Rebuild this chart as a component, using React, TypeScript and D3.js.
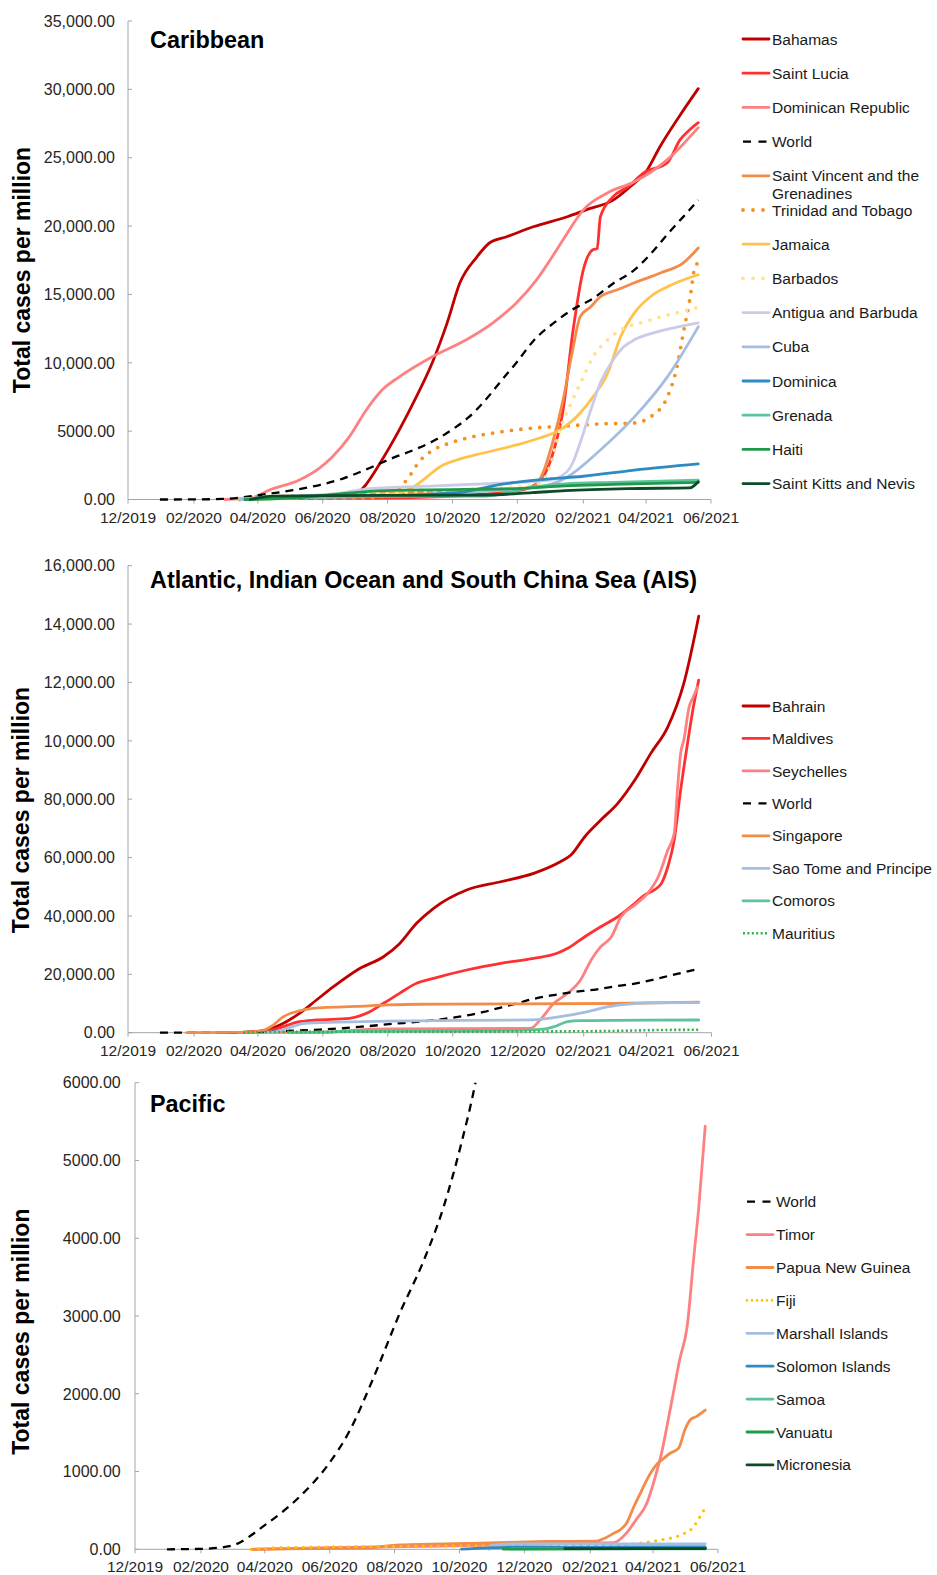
import React from 'react';
import * as d3 from 'd3';

type Pt = [string, number];

// ---- axis ticks ----
const xTickLabels = ['12/2019', '02/2020', '04/2020', '06/2020', '08/2020', '10/2020', '12/2020', '02/2021', '04/2021', '06/2021'];

const caribYTicks = [0, 5000, 10000, 15000, 20000, 25000, 30000, 35000];
const caribYLabels = ['0.00', '5000.00', '10,000.00', '15,000.00', '20,000.00', '25,000.00', '30,000.00', '35,000.00'];
const aisYTicks = [0, 20000, 40000, 60000, 80000, 100000, 120000, 140000, 160000];
const aisYLabels = ['0.00', '20,000.00', '40,000.00', '60,000.00', '80,000.00', '10,000.00', '12,000.00', '14,000.00', '16,000.00'];
const pacYTicks = [0, 1000, 2000, 3000, 4000, 5000, 6000];
const pacYLabels = ['0.00', '1000.00', '2000.00', '3000.00', '4000.00', '5000.00', '6000.00'];

// ---- series (total cases per million) ----
const world: Pt[] = [
  ['2019-12-31', 0], ['2020-01-31', 5], ['2020-02-28', 40], ['2020-04-02', 320], ['2020-05-04', 680],
  ['2020-05-29', 1060], ['2020-06-20', 1530], ['2020-07-12', 2200], ['2020-08-06', 3040], ['2020-08-28', 3700],
  ['2020-09-16', 4400], ['2020-10-02', 5180], ['2020-10-16', 6000], ['2020-10-30', 7100], ['2020-11-16', 8700],
  ['2020-12-01', 10100], ['2020-12-16', 11600], ['2021-01-04', 12900], ['2021-01-22', 13900], ['2021-02-10', 14700],
  ['2021-03-01', 15800], ['2021-03-21', 16800], ['2021-04-08', 18200], ['2021-04-21', 19400], ['2021-05-05', 20600],
  ['2021-05-20', 21900],
];

const bahamas: Pt[] = [
  ['2020-03-15', 0], ['2020-04-15', 100], ['2020-06-01', 180], ['2020-07-01', 300], ['2020-07-09', 840],
  ['2020-07-25', 2670], ['2020-08-12', 5090], ['2020-08-28', 7500], ['2020-09-12', 10000], ['2020-09-26', 12920],
  ['2020-10-08', 15850], ['2020-10-24', 17750], ['2020-11-05', 18780], ['2020-11-21', 19220], ['2020-12-16', 19950],
  ['2021-01-17', 20680], ['2021-02-04', 21200], ['2021-03-01', 21900], ['2021-03-17', 22880], ['2021-04-02', 24100],
  ['2021-04-14', 25800], ['2021-05-02', 28000], ['2021-05-20', 30050],
];
const saintLucia: Pt[] = [
  ['2020-03-15', 0], ['2020-04-15', 80], ['2020-07-01', 100], ['2020-09-01', 150], ['2020-10-15', 300],
  ['2020-11-15', 500], ['2020-12-10', 800], ['2020-12-25', 1650], ['2021-01-05', 3800], ['2021-01-13', 6550],
  ['2021-01-22', 12180], ['2021-02-01', 16800], ['2021-02-10', 18270], ['2021-02-14', 18350], ['2021-02-17', 20680],
  ['2021-03-01', 22150], ['2021-03-15', 22880], ['2021-03-30', 23900], ['2021-04-21', 24640], ['2021-05-03', 26320],
  ['2021-05-12', 27050], ['2021-05-20', 27560],
];
const dominicanRep: Pt[] = [
  ['2020-03-01', 0], ['2020-03-25', 100], ['2020-04-12', 700], ['2020-05-10', 1430], ['2020-05-29', 2300],
  ['2020-06-10', 3110], ['2020-06-26', 4580], ['2020-07-12', 6550], ['2020-07-27', 8020], ['2020-08-12', 8970],
  ['2020-09-12', 10440], ['2020-10-14', 11680], ['2020-11-08', 12920], ['2020-11-30', 14380], ['2020-12-19', 16070],
  ['2021-01-07', 18270], ['2021-01-17', 19500], ['2021-02-01', 21190], ['2021-02-24', 22440], ['2021-03-21', 23240],
  ['2021-04-21', 24860], ['2021-05-20', 27200],
];
const saintVincent: Pt[] = [
  ['2020-03-15', 0], ['2020-04-15', 100], ['2020-06-01', 250], ['2020-08-01', 450], ['2020-10-01', 600],
  ['2020-11-15', 700], ['2020-12-15', 900], ['2020-12-25', 1940], ['2021-01-03', 4140], ['2021-01-13', 7290],
  ['2021-01-22', 10950], ['2021-01-29', 13360], ['2021-02-08', 14100], ['2021-02-17', 14830], ['2021-03-05', 15340],
  ['2021-03-21', 15850], ['2021-04-15', 16580], ['2021-05-06', 17310], ['2021-05-20', 18400],
];
const trinidad: Pt[] = [
  ['2020-03-15', 0], ['2020-04-15', 80], ['2020-07-15', 110], ['2020-08-06', 470], ['2020-08-19', 1430],
  ['2020-09-01', 2890], ['2020-09-13', 3620], ['2020-09-29', 4140], ['2020-10-15', 4500], ['2020-11-15', 4940],
  ['2020-12-16', 5230], ['2021-01-17', 5380], ['2021-02-17', 5530], ['2021-03-21', 5600], ['2021-04-05', 6040],
  ['2021-04-21', 7500], ['2021-04-30', 9700], ['2021-05-06', 12190], ['2021-05-12', 14600], ['2021-05-17', 17020],
  ['2021-05-20', 17300],
];
const jamaica: Pt[] = [
  ['2020-03-15', 0], ['2020-04-15', 60], ['2020-06-01', 200], ['2020-07-15', 300], ['2020-08-10', 450],
  ['2020-08-25', 910], ['2020-09-07', 1650], ['2020-09-19', 2380], ['2020-10-05', 2890], ['2020-10-30', 3400],
  ['2020-11-30', 3990], ['2020-12-22', 4500], ['2021-01-10', 5090], ['2021-01-29', 6330], ['2021-02-10', 7500],
  ['2021-02-24', 9260], ['2021-03-08', 11900], ['2021-03-21', 13650], ['2021-04-05', 14830], ['2021-04-21', 15560],
  ['2021-05-20', 16440],
];
const barbados: Pt[] = [
  ['2020-03-20', 0], ['2020-04-20', 250], ['2020-06-01', 320], ['2020-09-01', 560], ['2020-11-01', 800],
  ['2020-12-15', 1000], ['2020-12-25', 1400], ['2021-01-01', 2500], ['2021-01-10', 5090], ['2021-01-22', 7290],
  ['2021-02-01', 8970], ['2021-02-10', 10440], ['2021-02-24', 11680], ['2021-03-08', 12410], ['2021-03-27', 12920],
  ['2021-04-15', 13360], ['2021-05-03', 13720], ['2021-05-20', 14050],
];
const antigua: Pt[] = [
  ['2020-03-15', 0], ['2020-04-15', 200], ['2020-05-15', 280], ['2020-06-15', 450], ['2020-07-15', 800],
  ['2020-09-15', 1000], ['2020-11-15', 1200], ['2020-12-31', 1400], ['2021-01-10', 1650], ['2021-01-22', 2670],
  ['2021-01-29', 4140], ['2021-02-08', 6550], ['2021-02-17', 8530], ['2021-03-01', 10210], ['2021-03-11', 11170],
  ['2021-03-21', 11680], ['2021-04-08', 12190], ['2021-04-27', 12560], ['2021-05-20', 12920],
];
const cuba: Pt[] = [
  ['2020-03-15', 0], ['2020-05-01', 120], ['2020-08-01', 250], ['2020-10-01', 500], ['2020-12-01', 750],
  ['2021-01-01', 1100], ['2021-01-17', 1650], ['2021-02-17', 3620], ['2021-03-21', 6040], ['2021-04-21', 8970],
  ['2021-05-20', 12630],
];
const dominica: Pt[] = [
  ['2020-03-20', 0], ['2020-04-15', 200], ['2020-06-01', 250], ['2020-08-01', 280], ['2020-09-15', 400],
  ['2020-10-15', 600], ['2020-11-08', 1000], ['2020-12-16', 1400], ['2021-02-01', 1700], ['2021-03-21', 2150],
  ['2021-05-20', 2600],
];
const grenada: Pt[] = [
  ['2020-03-22', 0], ['2020-04-20', 130], ['2020-08-01', 220], ['2020-11-01', 250], ['2020-12-15', 900],
  ['2021-01-15', 1150], ['2021-03-01', 1250], ['2021-05-20', 1420],
];
const haiti: Pt[] = [
  ['2020-03-20', 0], ['2020-05-01', 100], ['2020-06-15', 400], ['2020-07-15', 600], ['2020-09-01', 700],
  ['2020-12-01', 800], ['2021-01-15', 1000], ['2021-03-01', 1100], ['2021-05-20', 1250],
];
const saintKitts: Pt[] = [
  ['2020-03-25', 0], ['2020-04-15', 250], ['2020-06-01', 280], ['2020-11-01', 330], ['2020-12-15', 500],
  ['2021-01-15', 650], ['2021-03-15', 800], ['2021-05-12', 850], ['2021-05-20', 1300],
];

const bahrain: Pt[] = [
  ['2020-03-01', 0], ['2020-03-20', 150], ['2020-04-09', 920], ['2020-04-25', 3220], ['2020-05-10', 6640],
  ['2020-05-26', 11200], ['2020-06-11', 15760], ['2020-07-06', 22060], ['2020-07-28', 26030], ['2020-08-12', 30500],
  ['2020-08-28', 37470], ['2020-09-13', 42600], ['2020-10-14', 48870], ['2020-11-15', 51720], ['2020-12-16', 54600],
  ['2021-01-10', 58570], ['2021-01-20', 60860], ['2021-02-02', 67130], ['2021-02-17', 72850], ['2021-03-05', 78600],
  ['2021-03-21', 86550], ['2021-04-05', 95700], ['2021-04-21', 104800], ['2021-05-06', 119700], ['2021-05-20', 142700],
];
const maldives: Pt[] = [
  ['2020-03-10', 0], ['2020-04-03', 50], ['2020-04-20', 1500], ['2020-05-10', 3770], ['2020-05-26', 4350],
  ['2020-06-26', 4930], ['2020-07-12', 6640], ['2020-07-28', 10070], ['2020-08-12', 13490], ['2020-08-28', 16920],
  ['2020-09-13', 18630], ['2020-10-14', 21480], ['2020-11-15', 23770], ['2020-12-16', 25480], ['2021-01-07', 27200],
  ['2021-01-17', 28900], ['2021-02-02', 32880], ['2021-02-17', 36300], ['2021-03-05', 39730], ['2021-03-21', 44320],
  ['2021-03-30', 47160], ['2021-04-08', 48870], ['2021-04-15', 51170], ['2021-04-21', 56860], ['2021-04-27', 66000],
  ['2021-05-03', 83120], ['2021-05-09', 97960], ['2021-05-15', 111660], ['2021-05-20', 120800],
];
const seychelles: Pt[] = [
  ['2020-03-14', 0], ['2020-04-15', 120], ['2020-06-01', 150], ['2020-07-01', 900], ['2020-08-01', 1300],
  ['2020-12-13', 1500], ['2020-12-22', 4350], ['2021-01-04', 10070], ['2021-01-17', 13490], ['2021-01-29', 18050],
  ['2021-02-08', 24900], ['2021-02-17', 29460], ['2021-02-27', 32880], ['2021-03-08', 39730], ['2021-03-21', 43740],
  ['2021-04-02', 47740], ['2021-04-12', 53430], ['2021-04-21', 62570], ['2021-04-27', 68290], ['2021-04-30', 83120],
  ['2021-05-03', 95700], ['2021-05-06', 100250], ['2021-05-11', 111660], ['2021-05-15', 115080], ['2021-05-19', 118500],
];
const singapore: Pt[] = [
  ['2020-01-25', 0], ['2020-03-15', 100], ['2020-04-05', 700], ['2020-04-15', 2500], ['2020-04-25', 5500],
  ['2020-05-10', 7500], ['2020-06-01', 8600], ['2020-07-01', 9000], ['2020-08-01', 9500], ['2020-09-01', 9750],
  ['2020-12-01', 9850], ['2021-03-01', 10000], ['2021-05-20', 10500],
];
const saoTome: Pt[] = [
  ['2020-04-08', 0], ['2020-04-20', 500], ['2020-05-01', 1800], ['2020-05-15', 3200], ['2020-06-15', 3600],
  ['2020-08-01', 4000], ['2020-12-15', 4400], ['2021-01-10', 5500], ['2021-02-05', 7200], ['2021-02-24', 8900],
  ['2021-03-15', 9800], ['2021-04-05', 10250], ['2021-05-20', 10300],
];
const comoros: Pt[] = [
  ['2020-04-30', 0], ['2020-06-01', 200], ['2020-07-01', 500], ['2020-08-15', 600], ['2020-12-01', 800],
  ['2020-12-25', 1200], ['2021-01-04', 2050], ['2021-01-17', 3770], ['2021-01-29', 4110], ['2021-03-01', 4250],
  ['2021-05-20', 4350],
];
const mauritius: Pt[] = [
  ['2020-03-18', 0], ['2020-04-15', 250], ['2020-12-01', 400], ['2021-03-01', 600], ['2021-04-01', 850],
  ['2021-05-20', 1000],
];

const timor: Pt[] = [
  ['2020-03-21', 0], ['2020-06-01', 20], ['2020-12-01', 60], ['2021-02-07', 80], ['2021-02-23', 85],
  ['2021-03-07', 210], ['2021-03-16', 380], ['2021-03-26', 590], ['2021-04-04', 980], ['2021-04-09', 1240],
  ['2021-04-14', 1580], ['2021-04-20', 2010], ['2021-04-26', 2440], ['2021-05-03', 2865], ['2021-05-09', 3720],
  ['2021-05-14', 4410], ['2021-05-20', 5440],
];
const papuaNG: Pt[] = [
  ['2020-03-20', 0], ['2020-04-15', 5], ['2020-07-01', 15], ['2020-08-06', 55], ['2020-10-21', 80],
  ['2020-12-23', 100], ['2021-02-07', 105], ['2021-02-14', 140], ['2021-02-23', 205], ['2021-03-01', 250],
  ['2021-03-07', 335], ['2021-03-14', 550], ['2021-03-20', 720], ['2021-03-26', 890], ['2021-04-04', 1085],
  ['2021-04-11', 1170], ['2021-04-17', 1235], ['2021-04-25', 1300], ['2021-05-01', 1540], ['2021-05-06', 1665],
  ['2021-05-12', 1710], ['2021-05-20', 1790],
];
const fiji: Pt[] = [
  ['2020-03-19', 0], ['2020-04-15', 20], ['2020-12-01', 50], ['2021-03-01', 60], ['2021-04-08', 120],
  ['2021-04-27', 185], ['2021-05-09', 290], ['2021-05-15', 420], ['2021-05-20', 530],
];
const marshall: Pt[] = [['2020-10-29', 0], ['2020-11-01', 50], ['2020-11-20', 70], ['2021-05-20', 70]];
const solomon: Pt[] = [['2020-10-03', 2], ['2020-11-15', 25], ['2021-05-20', 30]];
const samoa: Pt[] = [['2020-11-18', 5], ['2021-05-20', 5]];
const vanuatu: Pt[] = [['2020-11-11', 3], ['2021-05-20', 13]];
const micronesia: Pt[] = [['2021-01-08', 9], ['2021-05-20', 9]];

// ---- styles ----
type Kind = 'solid' | 'dash' | 'dots' | 'fine' | 'fiji';
interface Series { name: string[]; data: Pt[]; color: string; kind: Kind }

const C = {
  darkRed: '#C00000', red: '#FF3030', salmon: '#FF8080', orange: '#F28C48', trin: '#F7901E',
  jam: '#FFC24A', barb: '#FFE28C', ant: '#CBCBE7', cuba: '#A5BDE0', dominica: '#2E8AC2',
  teal: '#5CC39B', green: '#1E9A4A', dkGreen: '#0B4B25', maur: '#2EB34C', fiji: '#FFC000',
};

const caribSeries: Series[] = [
  { name: ['Bahamas'], data: bahamas, color: C.darkRed, kind: 'solid' },
  { name: ['Saint Lucia'], data: saintLucia, color: C.red, kind: 'solid' },
  { name: ['Dominican Republic'], data: dominicanRep, color: C.salmon, kind: 'solid' },
  { name: ['World'], data: world, color: '#000000', kind: 'dash' },
  { name: ['Saint Vincent and the', 'Grenadines'], data: saintVincent, color: C.orange, kind: 'solid' },
  { name: ['Trinidad and Tobago'], data: trinidad, color: C.trin, kind: 'dots' },
  { name: ['Jamaica'], data: jamaica, color: C.jam, kind: 'solid' },
  { name: ['Barbados'], data: barbados, color: C.barb, kind: 'dots' },
  { name: ['Antigua and Barbuda'], data: antigua, color: C.ant, kind: 'solid' },
  { name: ['Cuba'], data: cuba, color: C.cuba, kind: 'solid' },
  { name: ['Dominica'], data: dominica, color: C.dominica, kind: 'solid' },
  { name: ['Grenada'], data: grenada, color: C.teal, kind: 'solid' },
  { name: ['Haiti'], data: haiti, color: C.green, kind: 'solid' },
  { name: ['Saint Kitts and Nevis'], data: saintKitts, color: C.dkGreen, kind: 'solid' },
];
const aisSeries: Series[] = [
  { name: ['Bahrain'], data: bahrain, color: C.darkRed, kind: 'solid' },
  { name: ['Maldives'], data: maldives, color: C.red, kind: 'solid' },
  { name: ['Seychelles'], data: seychelles, color: C.salmon, kind: 'solid' },
  { name: ['World'], data: world, color: '#000000', kind: 'dash' },
  { name: ['Singapore'], data: singapore, color: C.orange, kind: 'solid' },
  { name: ['Sao Tome and Principe'], data: saoTome, color: C.cuba, kind: 'solid' },
  { name: ['Comoros'], data: comoros, color: C.teal, kind: 'solid' },
  { name: ['Mauritius'], data: mauritius, color: C.maur, kind: 'fine' },
];
const pacSeries: Series[] = [
  { name: ['World'], data: world, color: '#000000', kind: 'dash' },
  { name: ['Timor'], data: timor, color: C.salmon, kind: 'solid' },
  { name: ['Papua New Guinea'], data: papuaNG, color: C.orange, kind: 'solid' },
  { name: ['Fiji'], data: fiji, color: C.fiji, kind: 'fiji' },
  { name: ['Marshall Islands'], data: marshall, color: C.cuba, kind: 'solid' },
  { name: ['Solomon Islands'], data: solomon, color: C.dominica, kind: 'solid' },
  { name: ['Samoa'], data: samoa, color: C.teal, kind: 'solid' },
  { name: ['Vanuatu'], data: vanuatu, color: C.green, kind: 'solid' },
  { name: ['Micronesia'], data: micronesia, color: C.dkGreen, kind: 'solid' },
];

const lineStyle = (kind: Kind, legend = false) => {
  switch (kind) {
    case 'dash': return { strokeWidth: 2.3, strokeDasharray: legend ? '8 7.5' : '8 6', strokeLinecap: 'butt' as const };
    case 'dots': return { strokeWidth: 3.8, strokeDasharray: legend ? '0 10' : '0 9.5', strokeLinecap: 'round' as const };
    case 'fine': return { strokeWidth: 2.6, strokeDasharray: '2 2.4', strokeLinecap: 'butt' as const };
    case 'fiji': return { strokeWidth: legend ? 2.6 : 3.2, strokeDasharray: legend ? '0 5' : '0 7.5', strokeLinecap: 'round' as const };
    default: return { strokeWidth: 2.8, strokeDasharray: undefined, strokeLinecap: 'round' as const };
  }
};

const parseDay = d3.timeParse('%Y-%m-%d');
const parseTick = d3.timeParse('%m/%Y');
const FONT = '"Liberation Sans", Arial, Helvetica, sans-serif';

interface PanelCfg {
  id: string; title: string; titleY: number;
  x0: number; x1: number; yTop: number; yBottom: number; yMax: number;
  yTicks: number[]; yLabels: string[]; yLabelX: number;
  axisTitleX: number; axisTitleY: number;
  series: Series[]; legendX: number; legendY: number; legendStep: number;
}

function Panel({ cfg }: { cfg: PanelCfg }) {
  const x = d3.scaleTime()
    .domain([parseTick(xTickLabels[0]) as Date, parseTick(xTickLabels[xTickLabels.length - 1]) as Date])
    .range([cfg.x0, cfg.x1]);
  const y = d3.scaleLinear().domain([0, cfg.yMax]).range([cfg.yBottom, cfg.yTop]);
  const line = d3.line<Pt>()
    .x((d) => x(parseDay(d[0]) as Date))
    .y((d) => y(d[1]))
    .curve(d3.curveMonotoneX);

  return (
    <g>
      <defs>
        <clipPath id={`clip-${cfg.id}`}>
          <rect x={cfg.x0} y={cfg.yTop} width={cfg.x1 - cfg.x0 + 2} height={cfg.yBottom - cfg.yTop + 4} />
        </clipPath>
      </defs>

      {/* axes */}
      <line x1={cfg.x0} x2={cfg.x0} y1={cfg.yTop} y2={cfg.yBottom} stroke="#A6A6A6" strokeWidth={1} />
      <line x1={cfg.x0} x2={cfg.x1} y1={cfg.yBottom} y2={cfg.yBottom} stroke="#A6A6A6" strokeWidth={1} />
      {cfg.yTicks.map((t, i) => (
        <g key={t}>
          <line x1={cfg.x0} x2={cfg.x0 + 4} y1={y(t)} y2={y(t)} stroke="#A6A6A6" />
          <text x={cfg.yLabelX} y={y(t)} dy="0.36em" textAnchor="end" fontSize={16} fill="#262626" fontFamily={FONT}>
            {cfg.yLabels[i]}
          </text>
        </g>
      ))}
      {xTickLabels.map((lab) => {
        const px = x(parseTick(lab) as Date);
        return (
          <g key={lab}>
            <line x1={px} x2={px} y1={cfg.yBottom} y2={cfg.yBottom + 4} stroke="#A6A6A6" />
            <text x={px} y={cfg.yBottom + 23} textAnchor="middle" fontSize={15.5} fill="#262626" fontFamily={FONT}>
              {lab}
            </text>
          </g>
        );
      })}

      {/* lines */}
      <g clipPath={`url(#clip-${cfg.id})`}>
        {cfg.series.map((s) => {
          const st = lineStyle(s.kind);
          return (
            <path key={s.name.join(' ')} d={line(s.data) || ''} fill="none" stroke={s.color}
              strokeWidth={st.strokeWidth} strokeDasharray={st.strokeDasharray}
              strokeLinecap={st.strokeLinecap} strokeLinejoin="round" />
          );
        })}
      </g>

      {/* titles */}
      <text x={150} y={cfg.titleY} fontSize={23.4} fontWeight="bold" fill="#000" fontFamily={FONT}>{cfg.title}</text>
      <text transform={`translate(${cfg.axisTitleX},${cfg.axisTitleY}) rotate(-90)`} textAnchor="middle"
        fontSize={23} fontWeight="bold" fill="#000" fontFamily={FONT}>Total cases per million</text>

      {/* legend */}
      {cfg.series.map((s, i) => {
        const ly = cfg.legendY + i * cfg.legendStep;
        const st = lineStyle(s.kind, true);
        return (
          <g key={`lg-${s.name.join(' ')}`}>
            <line x1={cfg.legendX} x2={cfg.legendX + 26} y1={ly} y2={ly} stroke={s.color}
              strokeWidth={st.strokeWidth} strokeDasharray={st.strokeDasharray} strokeLinecap={st.strokeLinecap} />
            {s.name.map((ln, j) => (
              <text key={ln} x={cfg.legendX + 29} y={ly + j * 18} dy="0.36em" fontSize={15.5} fill="#1A1A1A" fontFamily={FONT}>
                {ln}
              </text>
            ))}
          </g>
        );
      })}
    </g>
  );
}

const panels: PanelCfg[] = [
  {
    id: 'carib', title: 'Caribbean', titleY: 48,
    x0: 128, x1: 711, yTop: 21, yBottom: 499.5, yMax: 35000,
    yTicks: caribYTicks, yLabels: caribYLabels, yLabelX: 115,
    axisTitleX: 30, axisTitleY: 270,
    series: caribSeries, legendX: 743, legendY: 39, legendStep: 34.2,
  },
  {
    id: 'ais', title: 'Atlantic, Indian Ocean and South China Sea (AIS)', titleY: 588,
    x0: 128, x1: 711.5, yTop: 565.7, yBottom: 1032.7, yMax: 160000,
    yTicks: aisYTicks, yLabels: aisYLabels, yLabelX: 115,
    axisTitleX: 28.5, axisTitleY: 810,
    series: aisSeries, legendX: 743, legendY: 706, legendStep: 32.47,
  },
  {
    id: 'pac', title: 'Pacific', titleY: 1111.5,
    x0: 135, x1: 718, yTop: 1082.7, yBottom: 1549.3, yMax: 6000,
    yTicks: pacYTicks, yLabels: pacYLabels, yLabelX: 120.7,
    axisTitleX: 28.5, axisTitleY: 1331.7,
    series: pacSeries, legendX: 747, legendY: 1201.7, legendStep: 32.9,
  },
];

export default function App() {
  return (
    <div style={{ position: 'absolute', left: 0, top: 0, background: '#fff' }}>
      <svg width={937} height={1575} style={{ display: 'block' }}>
        <rect width={937} height={1575} fill="#fff" />
        {panels.map((p) => <Panel key={p.id} cfg={p} />)}
      </svg>
    </div>
  );
}
